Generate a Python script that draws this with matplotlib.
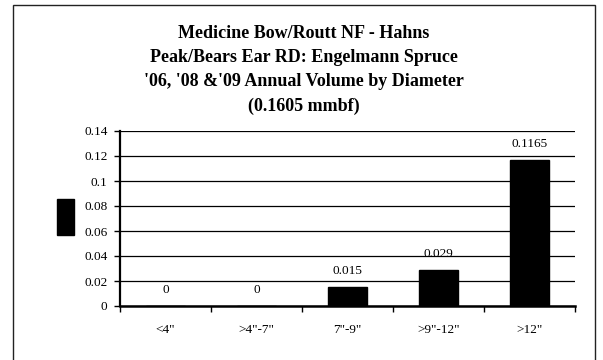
import matplotlib
matplotlib.use("Agg")
import matplotlib.pyplot as plt
from matplotlib.patches import Rectangle
import numpy as np

categories = ['<4"', '>4"-7"', '7"-9"', '>9"-12"', '>12"']
values = [0, 0, 0.015, 0.029, 0.1165]
value_labels = ['0', '0', '0.015', '0.029', '0.1165']
yticks = [0, 0.02, 0.04, 0.06, 0.08, 0.1, 0.12, 0.14]
ytick_labels = ['0', '0.02', '0.04', '0.06', '0.08', '0.1', '0.12', '0.14']
title = ("Medicine Bow/Routt NF - Hahns\n"
         "Peak/Bears Ear RD: Engelmann Spruce\n"
         "'06, '08 &'09 Annual Volume by Diameter\n"
         "(0.1605 mmbf)")

plt.rcParams['font.family'] = ['Liberation Serif', 'DejaVu Serif']

W, H = 603, 360
fig = plt.figure(figsize=(W / 100, H / 100), dpi=100)
fig.patch.set_facecolor('white')

# outer chart frame
fig.patches.append(Rectangle((13 / W, -0.05), 582 / W, 1.05 - 5 / H,
                             transform=fig.transFigure, fill=False,
                             edgecolor='#222222', linewidth=1.0))

ax = fig.add_axes([120 / W, 1 - 306 / H, 455 / W, 175 / H])
x = np.arange(len(categories))
bars = ax.bar(x, values, width=0.42, color='black', edgecolor='black', zorder=3)

ax.set_xlim(-0.5, len(categories) - 0.5)
ax.set_ylim(0, 0.14)
ax.set_yticks(yticks)
ax.set_yticklabels(ytick_labels, fontsize=9.5)
ax.yaxis.grid(True, color='black', linewidth=0.9, zorder=0)
ax.set_axisbelow(True)

ax.set_xticks(x)
ax.set_xticklabels(categories, fontsize=9.5)
ax.set_xticks(np.arange(len(categories) + 1) - 0.5, minor=True)
ax.tick_params(axis='x', which='major', length=0, pad=13)
ax.tick_params(axis='x', which='minor', length=4, direction='out', width=1)
ax.tick_params(axis='y', length=4, direction='out', width=1, pad=5)

for s in ['top', 'right']:
    ax.spines[s].set_visible(False)
ax.spines['left'].set_linewidth(1.6)
ax.spines['bottom'].set_linewidth(1.8)

for xi, v, lab in zip(x, values, value_labels):
    ax.annotate(lab, (xi, v), xytext=(0, 11.5), textcoords='offset points',
                ha='center', va='center', fontsize=9.5)

fig.text(304 / W, 1 - 70 / H, title, ha='center', va='center',
         fontsize=13, fontweight='bold', linespacing=1.57)

# legend key (series without a name)
fig.patches.append(Rectangle((57 / W, 1 - 235 / H), 17 / W, 36 / H,
                             transform=fig.transFigure, facecolor='black',
                             edgecolor='black'))

fig.savefig('out.png', dpi=100)
